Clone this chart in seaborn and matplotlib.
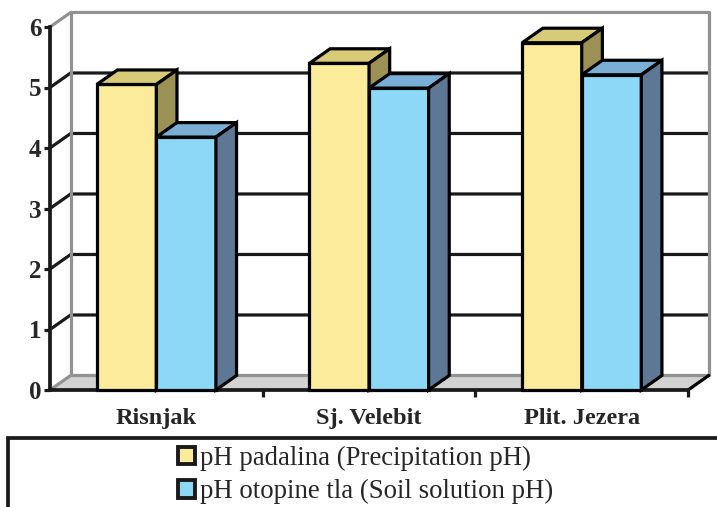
import pandas as pd
import matplotlib.pyplot as plt
import seaborn as sns
from matplotlib.patches import Polygon, Rectangle, Patch

# data
SITES = ["Risnjak", "Sj. Velebit", "Plit. Jezera"]
SERIES = ["pH padalina (Precipitation pH)", "pH otopine tla (Soil solution pH)"]
PRECIP_PH = [5.05, 5.40, 5.74]
SOIL_PH = [4.18, 4.99, 5.21]
Y_TICKS = [0, 1, 2, 3, 4, 5, 6]

FRONT = {SERIES[0]: "#FBEB9B", SERIES[1]: "#8DD7F7"}
TOP = {SERIES[0]: "#D8CB78", SERIES[1]: "#7BAED4"}
SIDE = {SERIES[0]: "#9B9154", SERIES[1]: "#5E7795"}

sns.set_style("white")
plt.rcParams["font.family"] = ["Liberation Serif", "DejaVu Serif"]

df = pd.DataFrame({
    "site": SITES * 2,
    "series": [SERIES[0]] * 3 + [SERIES[1]] * 3,
    "ph": PRECIP_PH + SOIL_PH,
})

# 3D depth offsets (data units) and pixel scale of the front plane
DX, DY = 0.097, 0.24
PX_X, PX_Y = 212.7, 60.5
XMIN, XMAX = -0.5, 2.5 + DX + 0.03
YMIN, YMAX = -0.1, 6 + DY + 0.1

fig = plt.figure(figsize=(7.17, 5.07), dpi=100)
W, H = 717, 507
left_px, bottom_px = 50, 390 + (0 - YMIN) * PX_Y
ax = fig.add_axes([left_px / W, (H - bottom_px) / H,
                   (XMAX - XMIN) * PX_X / W, (YMAX - YMIN) * PX_Y / H])

sns.barplot(data=df, x="site", y="ph", hue="series", palette=FRONT,
            saturation=1, width=0.56, gap=0, edgecolor="black", linewidth=2.3,
            legend=False, ax=ax, zorder=3)

# front faces drawn by seaborn, in series order
bar_names = []
bar_list = []
for cont, name in zip(ax.containers, SERIES):
    for b in cont:
        bar_list.append(b)
        bar_names.append(name)
order = sorted(range(len(bar_list)), key=lambda i: bar_list[i].get_x())

ax.set_xlim(XMIN, XMAX)
ax.set_ylim(YMIN, YMAX)

GRAY = "#929292"
LW = 2.3
# floor
ax.add_patch(Polygon([(-0.5, 0), (2.5, 0), (2.5 + DX, DY), (-0.5 + DX, DY)],
                     closed=True, facecolor="#D2D2D2", edgecolor="none", zorder=0.5))
ax.plot([-0.5, -0.5 + DX, 2.5 + DX], [0, DY, DY], color=GRAY, lw=LW, zorder=0.8)
ax.plot([2.5, 2.5 + DX], [0, DY], color="black", lw=LW, zorder=0.9)
# walls
ax.plot([-0.5 + DX, -0.5 + DX], [DY, 6 + DY], color=GRAY, lw=LW, zorder=0.8)
ax.plot([2.5 + DX, 2.5 + DX], [DY, 6 + DY], color=GRAY, lw=LW, zorder=0.8)
ax.plot([-0.5, -0.5 + DX, 2.5 + DX], [6, 6 + DY, 6 + DY], color=GRAY, lw=LW, zorder=0.8)
# gridlines
for k in Y_TICKS[1:-1]:
    ax.plot([-0.5, -0.5 + DX, 2.5 + DX], [k, k + DY, k + DY],
            color="#1A1A1A", lw=LW, zorder=0.7)

# top and side faces of each bar
for rank, i in enumerate(order):
    bar, name = bar_list[i], bar_names[i]
    x0, x1, h = bar.get_x(), bar.get_x() + bar.get_width(), bar.get_height()
    z = 3 + rank * 0.1
    bar.set_zorder(z)
    ax.add_patch(Polygon([(x0, h), (x1, h), (x1 + DX, h + DY), (x0 + DX, h + DY)],
                         closed=True, facecolor=TOP[name], edgecolor="black",
                         lw=LW, joinstyle="miter", zorder=z))
    ax.add_patch(Polygon([(x1, 0), (x1 + DX, DY), (x1 + DX, h + DY), (x1, h)],
                         closed=True, facecolor=SIDE[name], edgecolor="black",
                         lw=LW, joinstyle="miter", zorder=z))

# axes styling
for s in ["top", "right"]:
    ax.spines[s].set_visible(False)
ax.spines["left"].set_position(("data", -0.5))
ax.spines["left"].set_bounds(0, 6)
ax.spines["bottom"].set_position(("data", 0))
ax.spines["bottom"].set_bounds(-0.5, 2.5)
for s in ["left", "bottom"]:
    ax.spines[s].set_color("#1A1A1A")
    ax.spines[s].set_linewidth(LW + 0.4)
    ax.spines[s].set_zorder(2)

ax.set_yticks(Y_TICKS)
ax.set_yticklabels([str(v) for v in Y_TICKS], fontsize=18, fontweight="bold")
ax.tick_params(axis="y", direction="out", length=4, width=LW, color="#1A1A1A",
               pad=2, left=True)
ax.set_xticks(range(len(SITES)))
ax.set_xticklabels(SITES, fontsize=17.5, fontweight="bold")
ax.tick_params(axis="x", length=0, pad=13)
ax.set_xticks([0.5, 1.5, 2.5], minor=True)
ax.tick_params(axis="x", which="minor", direction="out", length=5, width=LW,
               color="#1A1A1A", bottom=True)
ax.set_xlabel("")
ax.set_ylabel("")
ax.grid(False)
ax.patch.set_alpha(0)

# legend box and entries
fig.add_artist(Rectangle((8 / W, -0.2), 1.2, 0.2 + (H - 438) / H,
                         transform=fig.transFigure, facecolor="none",
                         edgecolor="#1A1A1A", lw=LW + 0.4, clip_on=False))
handles = [Patch(facecolor=FRONT[s], edgecolor="#1A1A1A", lw=LW + 0.5) for s in SERIES]
fig.legend(handles, SERIES, loc="upper left",
           bbox_to_anchor=(178 / W, 1 - 446 / H), frameon=False, fontsize=19.3,
           handlelength=0.62, handleheight=0.62, handletextpad=0.2,
           labelspacing=0.3, borderpad=0, borderaxespad=0)

fig.savefig("out.png", dpi=100)
